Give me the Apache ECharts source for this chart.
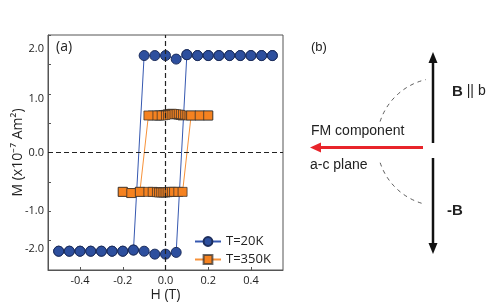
<!DOCTYPE html>
<html>
<head>
<meta charset="utf-8">
<script src="https://cdn.jsdelivr.net/npm/echarts@6/dist/echarts.min.js"></script>
<style>html,body{margin:0;padding:0;background:#fff;}#c{width:491px;height:304px;}</style>
</head>
<body>
<div id="c"></div>
<script>
// T = 20 K, field sweep down then up (H in T, M in 1e-7 Am^2)
const field20Down = [0.5,0.45,0.4,0.35,0.3,0.25,0.2,0.15,0.1,0.05,0,-0.05,-0.1,-0.15,-0.2,-0.25,-0.3,-0.35,-0.4,-0.45,-0.5];
const m20Down     = [1.65,1.65,1.65,1.65,1.65,1.65,1.65,1.65,1.665,1.59,1.65,1.65,1.65,-1.66,-1.68,-1.68,-1.68,-1.68,-1.68,-1.68,-1.68];
const field20Up   = [-0.5,-0.45,-0.4,-0.35,-0.3,-0.25,-0.2,-0.15,-0.1,-0.05,0,0.05,0.1,0.15,0.2,0.25,0.3,0.35,0.4,0.45,0.5];
const m20Up       = [-1.68,-1.68,-1.68,-1.68,-1.68,-1.68,-1.68,-1.66,-1.68,-1.73,-1.73,-1.70,1.665,1.65,1.65,1.65,1.65,1.65,1.65,1.65,1.65];
// T = 350 K
const field350Down = [0.2,0.16,0.12,0.08,0.07,0.06,0.05,0.04,0.03,0.02,0.01,0,-0.01,-0.02,-0.03,-0.04,-0.06,-0.08,-0.12,-0.16,-0.2];
const m350Down     = [0.63,0.63,0.63,0.63,0.64,0.645,0.65,0.655,0.66,0.655,0.65,0.64,0.635,0.63,0.63,0.63,0.63,0.63,-0.67,-0.69,-0.67];
const field350Up   = [-0.2,-0.16,-0.12,-0.08,-0.06,-0.04,-0.03,-0.02,-0.01,0,0.01,0.02,0.03,0.04,0.06,0.08,0.12,0.16,0.2];
const m350Up       = [-0.67,-0.69,-0.67,-0.67,-0.67,-0.675,-0.68,-0.68,-0.68,-0.68,-0.675,-0.67,-0.67,-0.67,-0.67,-0.67,0.63,0.63,0.63];

const seriesNames = ['T=20K','T=350K'];
const xTicks = [-0.4,-0.2,0,0.2,0.4];
const yLabels = {'2':'2.0','1':'1.0','0':'0.0','-1':'-1.0','-2':'-2.0'};

function pairs(xs, ys){ return xs.map((x,i)=>[x, ys[i]]); }
const data20 = pairs(field20Down, m20Down).concat(pairs(field20Up, m20Up));
const data350 = pairs(field350Down, m350Down).concat(pairs(field350Up, m350Up));

const FONT = 'Open Sans';
const chart = echarts.init(document.getElementById('c'), null, {renderer:'canvas'});
chart.setOption({
  animation:false,
  backgroundColor:'#fff',
  grid:{left:48,right:208,top:35,bottom:34,show:true,borderColor:'#555',borderWidth:1,
        backgroundColor:'transparent',containLabel:false,outerBoundsMode:'none'},
  xAxis:{
    type:'value',min:-0.55,max:0.55,
    name:'H (T)',nameLocation:'middle',nameGap:18,nameMoveOverlap:false,
    nameTextStyle:{fontFamily:FONT,fontSize:14,color:'#222'},
    axisLine:{show:true,onZero:false,lineStyle:{color:'#555',width:1}},
    axisTick:{show:true,inside:true,length:3,customValues:xTicks,lineStyle:{color:'#555'}},
    axisLabel:{customValues:xTicks,fontFamily:FONT,fontSize:11,color:'#222',margin:5,
      formatter:v=>v.toFixed(1)},
    splitLine:{show:false}
  },
  yAxis:{
    type:'value',min:-2,max:2,interval:0.5,
    name:'M (x10\u207B\u2077 Am\u00B2)',nameLocation:'middle',nameGap:23,nameMoveOverlap:false,
    nameTextStyle:{fontFamily:FONT,fontSize:14,color:'#222'},
    axisLine:{show:true,onZero:false,lineStyle:{color:'#555',width:1}},
    axisTick:{show:true,inside:true,length:3,lineStyle:{color:'#555'}},
    axisLabel:{fontFamily:FONT,fontSize:11,color:'#222',margin:4,showMinLabel:true,showMaxLabel:true,
      formatter:v=>{
        const k=String(v);
        if(!(k in yLabels)) return '';
        if(v===2) return '{t|'+yLabels[k]+'}';
        if(v===-2) return '{b|'+yLabels[k]+'}';
        if(v===1) return '{o|'+yLabels[k]+'}';
        return yLabels[k];
      },
      rich:{t:{padding:[28,0,0,0],fontFamily:FONT,fontSize:11,color:'#222'},
            b:{padding:[0,0,42,0],fontFamily:FONT,fontSize:11,color:'#222'},
            o:{padding:[10,0,0,0],fontFamily:FONT,fontSize:11,color:'#222'}}
    },
    splitLine:{show:false}
  },
  legend:{
    orient:'vertical',left:189,top:230,itemWidth:26,itemHeight:11,itemGap:5,
    textStyle:{fontFamily:FONT,fontSize:13,color:'#222'},
    data:seriesNames
  },
  series:[
    {
      name:seriesNames[0],type:'line',data:data20,
      symbol:'circle',symbolSize:10,
      lineStyle:{color:'#3658b0',width:1},
      itemStyle:{color:'#2d4f9e',borderColor:'#1c2d5c',borderWidth:1},
      z:2
    },
    {
      name:seriesNames[1],type:'line',data:data350,
      symbol:'rect',symbolSize:9,
      lineStyle:{color:'#f7923a',width:1},
      itemStyle:{color:'#f58220',borderColor:'rgba(45,45,45,0.7)',borderWidth:1},
      z:3,
      markLine:{
        silent:true,symbol:['none','none'],label:{show:false},
        lineStyle:{color:'#222',type:[5,3],width:1.2},
        data:[{xAxis:0},{yAxis:0}]
      }
    }
  ],
  graphic:[
    {type:'text',left:56,top:40,style:{text:'(a)',fontFamily:FONT,fontSize:14,fill:'#222'}},
    // panel (b)
    {type:'text',x:311,y:41,style:{text:'(b)',fontFamily:'Liberation Sans',fontSize:13,fill:'#222'}},
    {type:'line',shape:{x1:433,y1:143,x2:433,y2:60},style:{stroke:'#111',lineWidth:2.5}},
    {type:'polygon',shape:{points:[[433,52],[428.5,63],[437.5,63]]},style:{fill:'#111'}},
    {type:'line',shape:{x1:433,y1:158,x2:433,y2:246},style:{stroke:'#111',lineWidth:2.5}},
    {type:'polygon',shape:{points:[[433,254],[428.5,243],[437.5,243]]},style:{fill:'#111'}},
    {type:'line',shape:{x1:423,y1:147.5,x2:318,y2:147.5},style:{stroke:'#e8242a',lineWidth:3}},
    {type:'polygon',shape:{points:[[310,147.5],[321,142.5],[321,152.5]]},style:{fill:'#e8242a'}},
    {type:'arc',shape:{cx:440,cy:141,r:63,startAngle:198*Math.PI/180,endAngle:257*Math.PI/180,clockwise:true},
      style:{stroke:'#333',fill:null,lineWidth:0.8,lineDash:[4,4]}},
    {type:'arc',shape:{cx:440,cy:143,r:63,startAngle:107*Math.PI/180,endAngle:163*Math.PI/180,clockwise:true},
      style:{stroke:'#333',fill:null,lineWidth:0.8,lineDash:[4,4]}},
    {type:'text',x:311,y:124,style:{text:'FM component',fontFamily:'Liberation Sans',fontSize:14,fill:'#222'}},
    {type:'text',x:310,y:158,style:{text:'a-c plane',fontFamily:'Liberation Sans',fontSize:14,fill:'#222'}},
    {type:'text',x:452,y:84,style:{text:'{b|B} || b',fontFamily:'Liberation Sans',fontSize:14,fill:'#222',
      rich:{b:{fontWeight:'bold',fontFamily:'Liberation Sans',fontSize:15,fill:'#222'}}}},
    {type:'text',x:447,y:203,style:{text:'-B',fontFamily:'Liberation Sans',fontSize:15,fontWeight:'bold',fill:'#222'}}
  ]
});
</script>
</body>
</html>
